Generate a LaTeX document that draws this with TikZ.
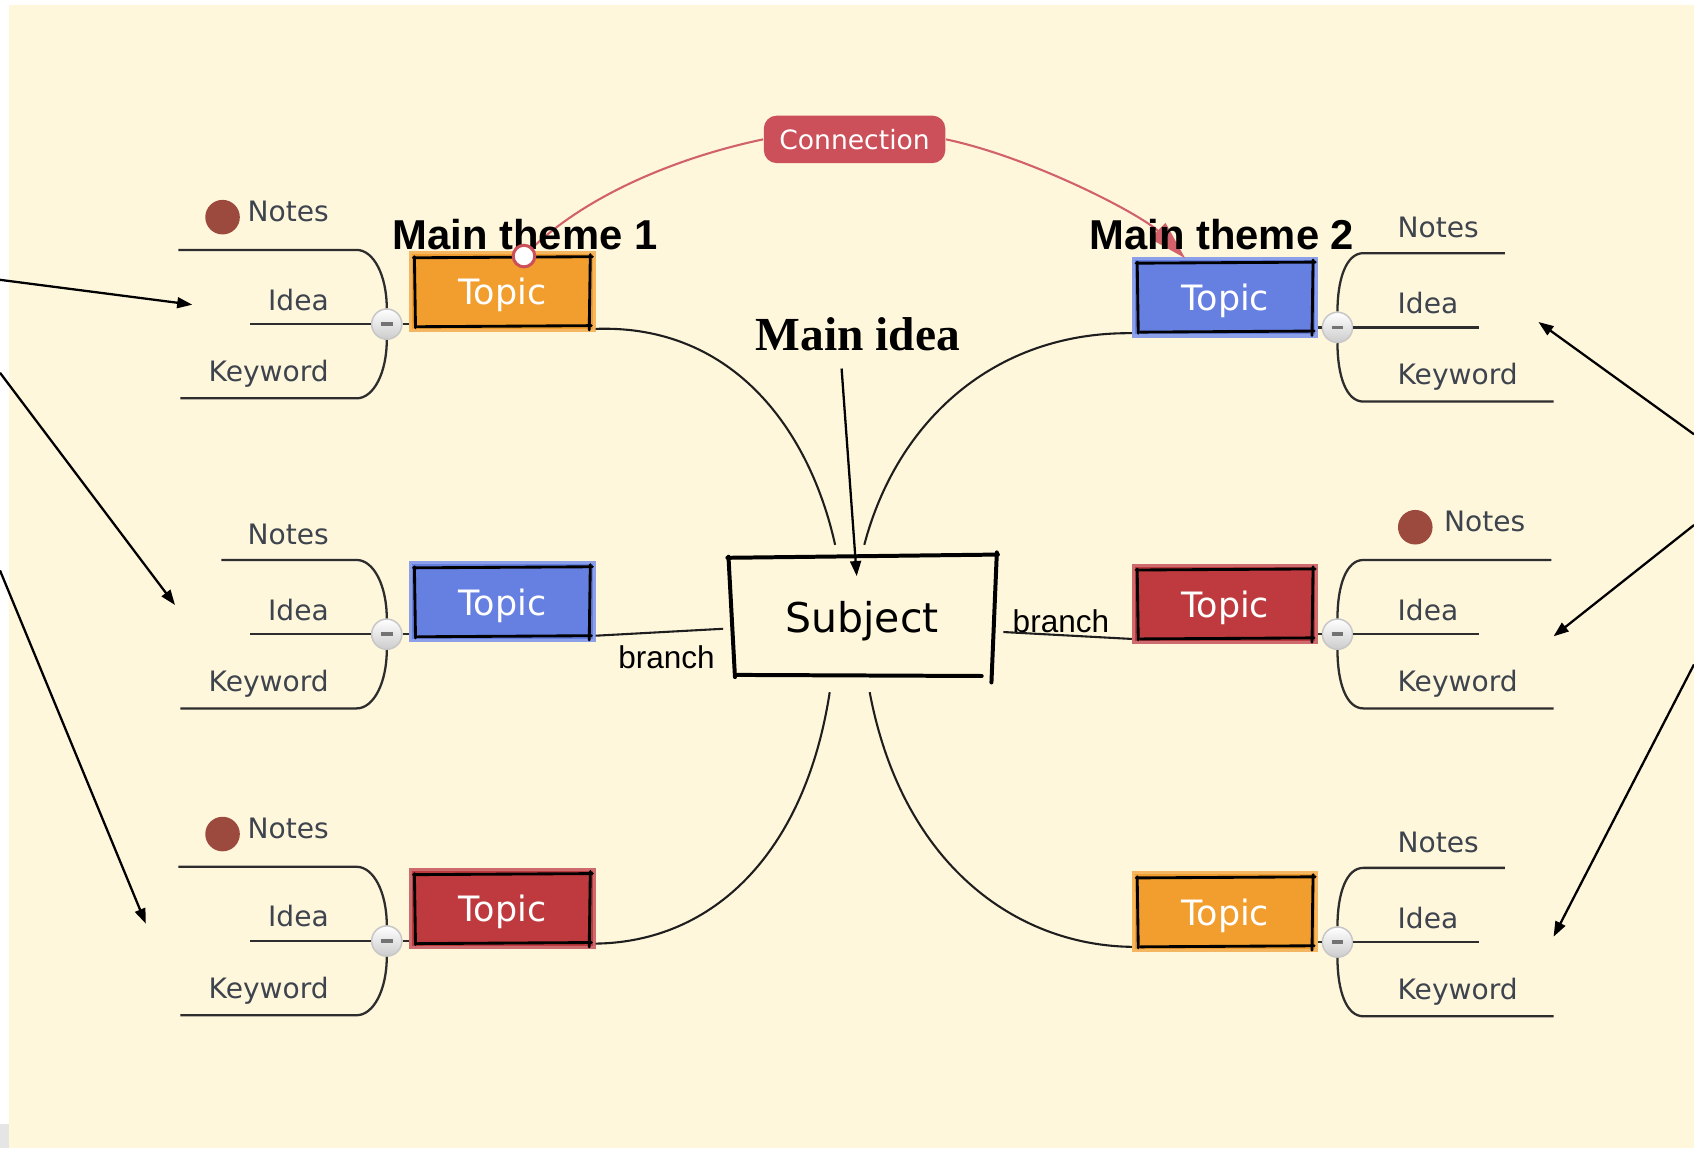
\documentclass[tikz,border=0pt]{standalone}
\usepackage{fontspec}
\setmainfont{Liberation Serif}
\setsansfont{Liberation Sans}
\newfontfamily\handfont{DejaVu Sans}
\usetikzlibrary{arrows.meta,positioning,calc}
\definecolor{bgcream}{RGB}{255,247,220}
\definecolor{topicorange}{RGB}{242,158,46}
\definecolor{topicblue}{RGB}{102,128,226}
\definecolor{topicred}{RGB}{190,58,62}
\definecolor{linkred}{RGB}{204,80,90}
\definecolor{notebrown}{RGB}{156,74,62}
\definecolor{leafgrey}{RGB}{62,68,78}
\definecolor{twiggrey}{RGB}{45,45,45}
\definecolor{stemblack}{RGB}{30,30,30}
\tikzset{
  topic/.style={rectangle, fill=#1, draw=#1!75!white, line width=0.8pt, minimum width=17mm, minimum height=7.2mm, inner sep=0pt, text depth=0pt, text=white, font=\handfont\fontsize{9.2}{10}\selectfont},
  subject/.style={rectangle, minimum width=24.4mm, minimum height=11mm, inner sep=0pt, text depth=0pt, text=black, font=\handfont\fontsize{10.8}{12}\selectfont},
  rough/.style={line width=0.75pt, line cap=round, draw=black},
  fold/.style={circle, minimum size=2.8mm, inner sep=0pt, draw=black!22, line width=0.4pt, top color=white, bottom color=black!20},
  notedot/.style={circle, minimum size=3.2mm, inner sep=0pt, fill=notebrown},
  leaf/.style={inner sep=0pt, text=leafgrey, font=\handfont\fontsize{7.4}{9}\selectfont},
  twig/.style={line width=0.6pt, draw=twiggrey},
  stem/.style={line width=0.55pt, draw=stemblack},
  pill/.style={rectangle, rounded corners=1.2mm, fill=linkred, minimum width=16.8mm, minimum height=4.4mm, inner sep=0pt, text=white, font=\handfont\fontsize{7}{8}\selectfont},
  link/.style={line width=0.55pt, draw=linkred!90!white},
  linkend/.style={circle, minimum size=2mm, inner sep=0pt, fill=white, draw=linkred, line width=0.8pt},
  arr/.style={-{Triangle[length=1.4mm,width=1mm]}, line width=0.6pt, draw=black},
  theme/.style={inner sep=0pt, font=\sffamily\bfseries\fontsize{11}{13}\selectfont},
  lbl/.style={inner sep=0pt, font=\sffamily\fontsize{8.3}{10}\selectfont},
}
\newcommand{\foldbar}{\textcolor{black!55}{\rule{1.1mm}{0.32mm}}}
\newcommand{\roughbox}[2]{%
  \draw[rough] ($(#1.north west)+(#2-1,#2+1)$) -- ($(#1.north east)+(-#2+2,#2)$);
  \draw[rough] ($(#1.north east)+(-#2,#2-2)$) -- ($(#1.south east)+(-#2-1,-#2+3)$);
  \draw[rough] ($(#1.south east)+(-#2+1,-#2-1)$) -- ($(#1.south west)+(#2+3,-#2)$);
  \draw[rough] ($(#1.south west)+(#2+1,-#2+1)$) -- ($(#1.north west)+(#2,#2)$);
}

\begin{document}
\begin{tikzpicture}[x=0.1mm, y=-0.1mm]
  \useasboundingbox (0,0) rectangle (1568,1063);
  \fill[bgcream] (8,5) rectangle (1568,1063);
  \fill[black!10] (0,1040) rectangle (8,1063);

  % central subject
  \node[subject] (subj) at (798,571) {Subject};
  \begin{scope}[rough/.append style={line width=1.05pt}]
    \draw[rough] ($(subj.north west)+(-2,1)$) -- ($(subj.north east)+(3,-2)$);
    \draw[rough] ($(subj.north east)+(2,-4)$) -- ($(subj.south east)+(-3,5)$);
    \draw[rough] ($(subj.south east)+(-12,-1)$) -- ($(subj.south west)+(6,-2)$);
    \draw[rough] ($(subj.south west)+(5,0)$) -- ($(subj.north west)+(-1,0)$);
  \end{scope}

  % left side topics
  \foreach \i/\y/\col/\nlen/\nup/\hasdot in {1/270/topicorange/165/27/1, 2/557/topicblue/125/15/0, 3/841/topicred/165/27/1}{
    \pgfmathsetmacro{\cy}{\y+30}
    \node[topic=\col] (lt\i) at (465,\y) {Topic};
    \roughbox{lt\i}{5}
    \node[fold] (lf\i) at (358,\cy) {\foldbar};
    \draw[twig] (lf\i.east) -- (lt\i.west |- lf\i.east);
    \draw[twig] (lf\i.north) .. controls +(0,-30) and +(16,0) .. ++(-28,-54) -- ++(-\nlen,0);
    \draw[twig] (lf\i.west) -- ++(-112,0);
    \draw[twig] (lf\i.south) .. controls +(0,30) and +(16,0) .. ++(-28,54) -- ++(-163,0);
    \node[leaf, anchor=base east] (ln\i) at (305,{\cy-68-\nup}) {Notes};
    \node[leaf, anchor=base east] (li\i) at (305,{\cy-13}) {Idea};
    \node[leaf, anchor=base east] (lk\i) at (305,{\cy+53}) {Keyword};
    \ifnum\hasdot=1 \node[notedot] (ld\i) at (206,{\cy-99}) {}; \fi
  }

  % right side topics
  \foreach \i/\y/\col/\nlen/\nup/\npos/\hasdot in {1/275/topicblue/131/15/1293/0, 2/559/topicred/174/27/1336/1, 3/844/topicorange/131/15/1293/0}{
    \pgfmathsetmacro{\cy}{\y+28}
    \node[topic=\col] (rt\i) at (1134,\y) {Topic};
    \roughbox{rt\i}{5}
    \node[fold] (rf\i) at (1238,\cy) {\foldbar};
    \draw[twig] (rt\i.east |- rf\i.west) -- (rf\i.west);
    \draw[twig] (rf\i.north) .. controls +(0,-30) and +(-16,0) .. ++(24,-54) -- ++(\nlen,0);
    \draw[twig] (rf\i.east) -- ++(116,0);
    \draw[twig] (rf\i.south) .. controls +(0,30) and +(-16,0) .. ++(24,54) -- ++(176,0);
    \node[leaf, anchor=base west] (rn\i) at (\npos,{\cy-68-\nup}) {Notes};
    \node[leaf, anchor=base west] (ri\i) at (1293,{\cy-13}) {Idea};
    \node[leaf, anchor=base west] (rk\i) at (1293,{\cy+53}) {Keyword};
    \ifnum\hasdot=1 \node[notedot] (rd\i) at (1310,{\cy-99}) {}; \fi
  }

  % branches to the subject
  \draw[stem] ($(lt1.south east)+(0,-3)$) .. controls (680,300) and (750,400) .. ($(subj.north)+(-25,-11)$);
  \draw[stem] ($(rt1.south west)+(0,-4)$) .. controls (920,307) and (830,390) .. ($(subj.north)+(2,-11)$);
  \draw[stem] ($(lt3.south east)+(0,-5)$) .. controls (660,872) and (745,790) .. ($(subj.south)+(-30,14)$);
  \draw[stem] ($(rt3.south west)+(0,-5)$) .. controls (940,875) and (835,800) .. ($(subj.south)+(7,14)$);
  \draw[stem] ($(lt2.south east)+(0,-6)$) -- ($(subj.west)+(-6,11)$);
  \draw[stem] ($(subj.east)+(8,14)$) -- ($(rt2.south west)+(0,-5)$);
  \node[lbl, anchor=base] (brl) at (617,619) {branch};
  \node[lbl, anchor=base] (brr) at (982,585) {branch};

  % connection between the themes
  \node[pill] (conn) at (791,129) {Connection};
  \coordinate (lkend) at (1097,239);
  \draw[link] (485,237) .. controls (540,180) and (630,145) .. (conn.west);
  \draw[link, -{Triangle[length=3.6mm,width=2mm]}] (conn.east) .. controls (956,146) and (1057,199) .. (lkend);

  % annotations
  \node[theme, anchor=base] (mt1) at (486,231) {Main theme 1};
  \node[theme, anchor=base] (mt2) at (1131,231) {Main theme 2};
  \node[linkend] (lk0) at (485,237) {};
  \node[inner sep=0pt, anchor=base, font=\rmfamily\bfseries\fontsize{12.5}{15}\selectfont] (mainidea) at (794,324) {Main idea};
  \draw[arr] ([xshift=-1.5mm,yshift=-1.6mm]mainidea.south) -- ([xshift=-0.5mm,yshift=-1.8mm]subj.north);
  \foreach \n/\sx/\sy/\tx/\ty in {1/0/259/178/282, 2/0/345/162/560, 3/0/528/135/855, 4/1568/402/1424/298, 5/1568/486/1438/589, 6/1568/615/1438/867}{
    \coordinate (as\n) at (\sx,\sy);
    \coordinate (ae\n) at (\tx,\ty);
    \draw[arr] (as\n) -- (ae\n);
  }
\end{tikzpicture}
\end{document}
